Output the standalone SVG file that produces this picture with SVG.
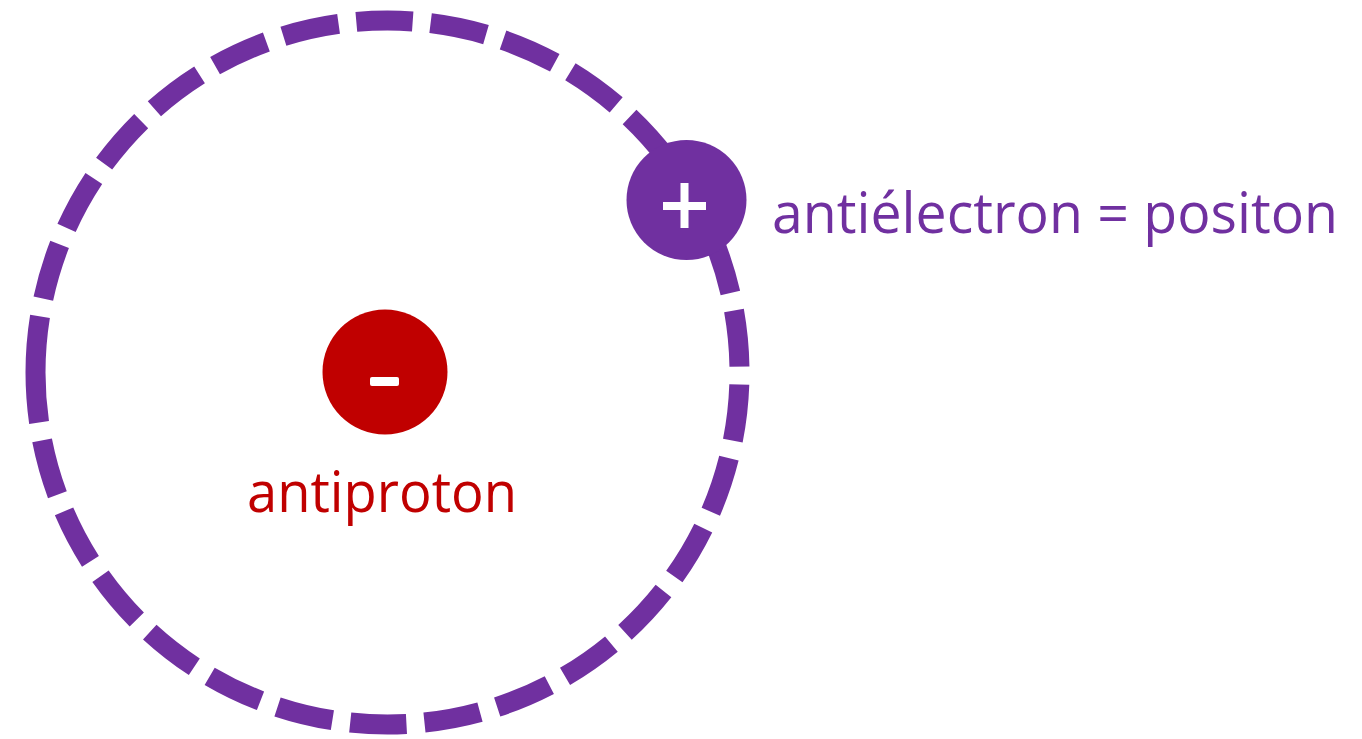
<svg xmlns="http://www.w3.org/2000/svg" width="1362" height="739" viewBox="0 0 1362 739">
<style>
.orbit{fill:none;stroke:#7030A0;stroke-width:20;stroke-dasharray:56.5 18}
.lbl{font-family:"Open Sans","Noto Sans","Liberation Sans",sans-serif;font-size:56px}
</style>
<rect width="1362" height="739" fill="#ffffff"/>
<g id="connectors">
<path class="orbit" d="M 35.5 372.5 A 352 352 0 1 1 739.5 372.5 A 352 352 0 1 1 35.5 372.5"/>
</g>
<g id="antiproton">
<circle cx="385" cy="372" r="62.5" fill="#C00000"/>
<rect x="370" y="377" width="29" height="9" rx="2" fill="#ffffff"/>
<text class="lbl" x="382" y="512" text-anchor="middle" fill="#C00000" textLength="270" lengthAdjust="spacingAndGlyphs">antiproton</text>
</g>
<g id="positon">
<circle cx="686.5" cy="200" r="60" fill="#7030A0"/>
<rect x="663" y="202" width="43" height="8" fill="#ffffff"/>
<rect x="680.5" y="183" width="8" height="45" fill="#ffffff"/>
<text class="lbl" x="772" y="233" fill="#7030A0" textLength="566" lengthAdjust="spacingAndGlyphs">antiélectron = positon</text>
</g>
</svg>
